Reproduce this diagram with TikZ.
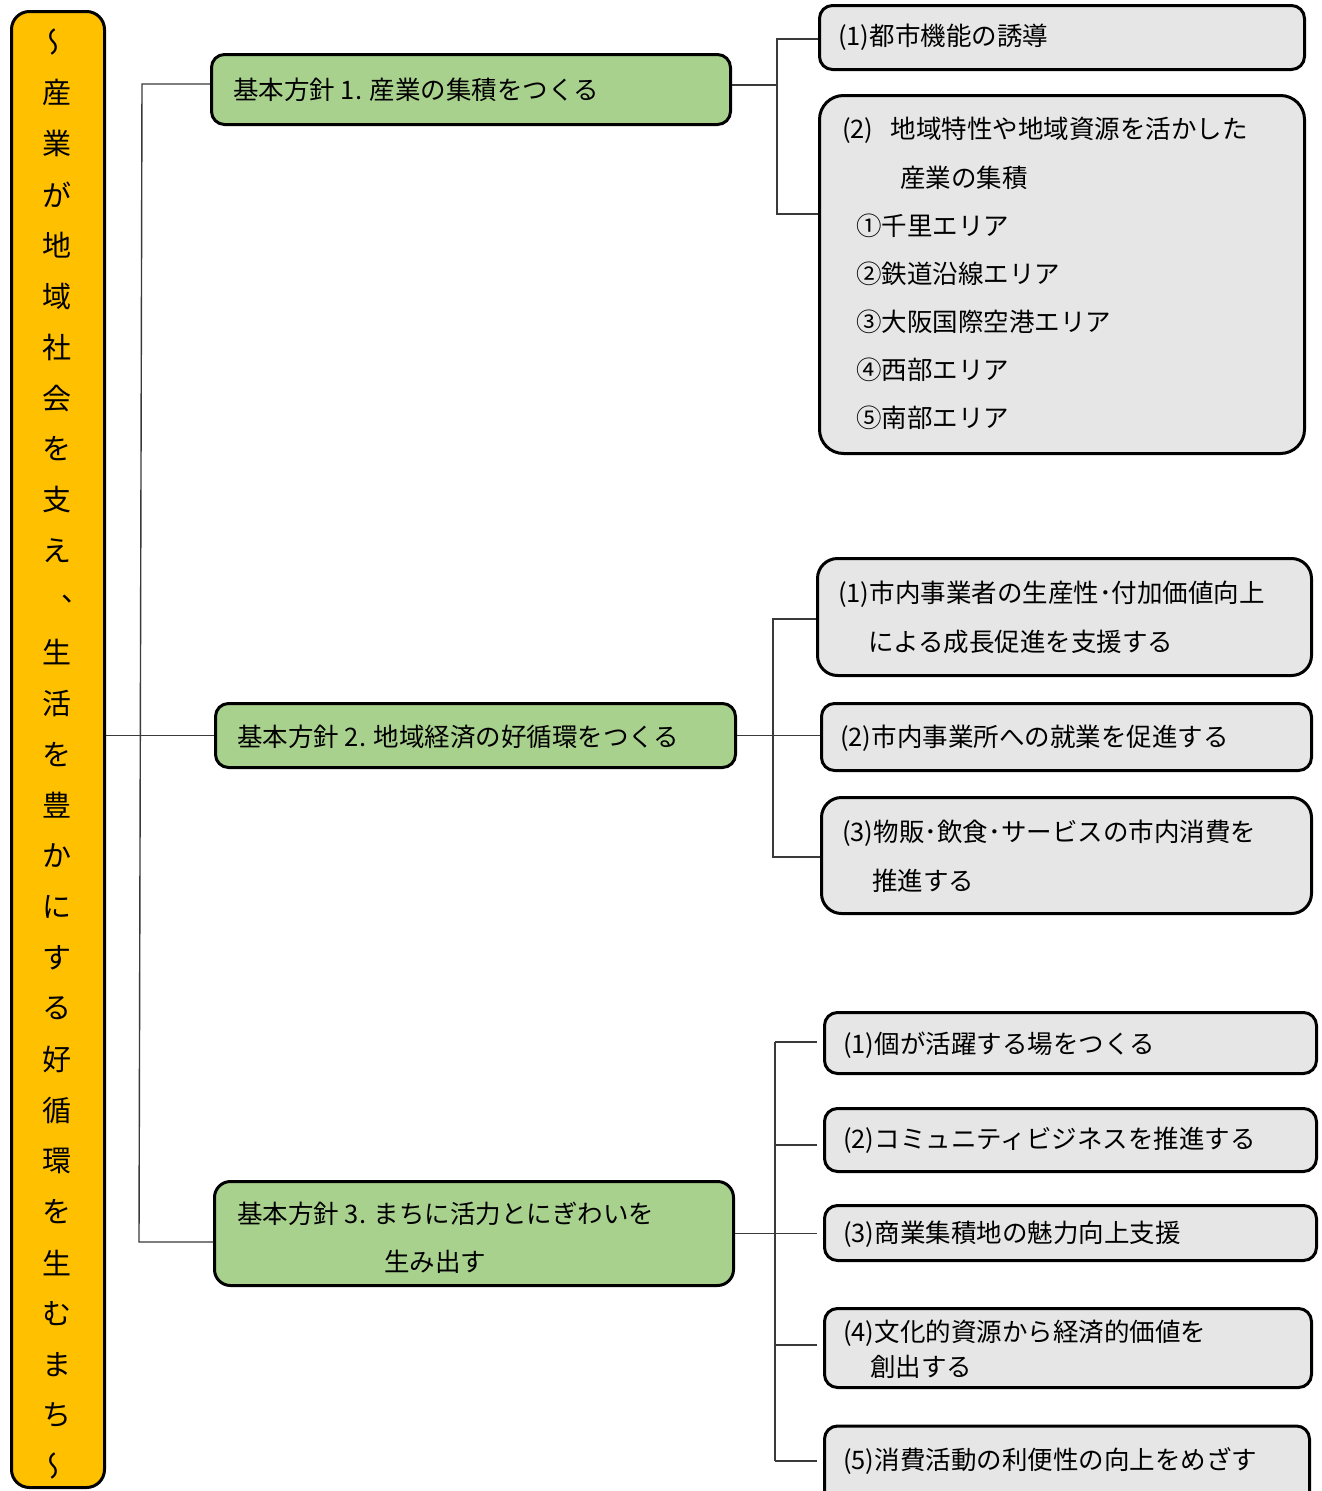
\documentclass[tikz,border=0pt]{standalone}
\usepackage{fontspec}
\setmainfont{Noto Sans CJK JP}
\usetikzlibrary{calc}
\definecolor{orangefill}{HTML}{FFC000}
\definecolor{greenfill}{HTML}{A9D18E}
\definecolor{grayfill}{HTML}{E7E6E6}
\definecolor{linec}{HTML}{3A3A3A}
\begin{document}
\begin{tikzpicture}[x=1pt,y=-1pt,
  basebox/.style={draw=black, line width=3pt, inner sep=0pt, rectangle},
  orangebox/.style={basebox, fill=orangefill, rounded corners=18pt},
  greenbox/.style={basebox, fill=greenfill, rounded corners=13pt},
  graybox/.style={basebox, fill=grayfill, rounded corners=13pt},
  bigbox/.style={basebox, fill=grayfill, rounded corners=24pt},
  conn/.style={draw=linec, line width=1.4pt},
  txt/.style={anchor=west, inner sep=0pt, font=\fontsize{25.5}{30}\selectfont},
  vtxt/.style={inner sep=0pt, font=\fontsize{29}{34}\selectfont}
]
\useasboundingbox (0,0) rectangle (1322,1491);
\clip (0,0) rectangle (1322,1491);
\fill[white] (0,0) rectangle (1322,1491);

% boxes
\node[orangebox, minimum width=93pt, minimum height=1476pt] (ob) at (58,749.5) {};
\node[greenbox, minimum width=519pt, minimum height=70pt] (g1) at (471,89.5) {};
\node[greenbox, minimum width=520pt, minimum height=64pt] (g2) at (475.5,735.5) {};
\node[greenbox, minimum width=519pt, minimum height=104pt, rounded corners=16pt] (g3) at (474,1233.5) {};

\node[graybox, minimum width=485pt, minimum height=64pt] (b1) at (1062,37.5) {};
\node[bigbox, minimum width=485pt, minimum height=358pt] (b2) at (1062,274.5) {};

\node[graybox, minimum width=494pt, minimum height=117pt, rounded corners=20pt] (c1) at (1064.5,617) {};
\node[graybox, minimum width=490pt, minimum height=67pt] (c2) at (1066.5,737) {};
\node[graybox, minimum width=490pt, minimum height=116pt, rounded corners=20pt] (c3) at (1066.5,855.5) {};

\node[graybox, minimum width=492pt, minimum height=61pt] (d1) at (1070.5,1043) {};
\node[graybox, minimum width=492pt, minimum height=63pt] (d2) at (1070.5,1140) {};
\node[graybox, minimum width=492pt, minimum height=55pt] (d3) at (1070.5,1233) {};
\node[graybox, minimum width=487pt, minimum height=79pt] (d4) at (1068,1348) {};
\node[graybox, minimum width=485pt, minimum height=84pt] (d5) at (1067,1468) {};

% connectors: main
\coordinate (mt) at (142,84);
\coordinate (mb) at (139,1242);
\draw[conn] ($(g1.west)+(0,-5.5)$) -- (mt) -- (mb) -- (g3.west |- mb);
\draw[conn] (ob.east |- g2.west) -- (g2.west);

% group 1
\coordinate (j1t) at (777,39);
\coordinate (j1b) at (777,214);
\draw[conn] (b1.west |- j1t) -- (j1t) -- (j1b) -- (b2.west |- j1b);
\draw[conn] ($(g1.east)+(0,-4.5)$) -- ($(g1.east -| j1t)+(0,-4.5)$);

% group 2
\coordinate (j2t) at (773,619);
\coordinate (j2b) at (773,857);
\draw[conn] (c1.west |- j2t) -- (j2t) -- (j2b) -- (c3.west |- j2b);
\draw[conn] (g2.east) -- (g2.east -| c2.west);

% group 3
\coordinate (j3t) at (775,1042);
\coordinate (j3b) at (775,1461);
\coordinate (j3c) at (775,1145);
\coordinate (j3d) at (775,1345);
\draw[conn] (j3t) -- (j3b);
\draw[conn, shorten >=6pt] (j3t) -- (d1.west |- j3t);
\draw[conn, shorten >=6pt] (j3c) -- (d2.west |- j3c);
\draw[conn, shorten >=6pt] (g3.east) -- (g3.east -| d3.west);
\draw[conn, shorten >=6pt] (j3d) -- (d4.west |- j3d);
\draw[conn, shorten >=6pt] (j3b) -- (d5.west |- j3b);

% vertical title
\foreach \ch [count=\i from 0] in {産,業,が,地,域,社,会,を,支,え,{},生,活,を,豊,か,に,す,る,好,循,環,を,生,む,ま,ち}{
  \pgfmathsetmacro{\yy}{92.9+\i*50.86}
  \node[vtxt] (v\i) at (57,\yy) {\ch};
}
\node[vtxt] (vcomma) at (76,599) {、};
\node[vtxt, rotate=90, xscale=-1] (vtop) at (57,42) {～};
\node[vtxt, rotate=90, xscale=-1] (vbot) at (57,1466) {～};

% texts
\node[txt] (tg1) at (233,90) {基本方針 1. 産業の集積をつくる};
\node[txt] (tg2) at (237,737) {基本方針 2. 地域経済の好循環をつくる};
\node[txt] (tg3a) at (237,1214) {基本方針 3. まちに活力とにぎわいを};
\node[txt] (tg3b) at (384,1262) {生み出す};

\node[txt] (tb1) at (838,37) {(1)都市機能の誘導};
\node[txt] (tb2a) at (842,130) {(2)\hspace{17pt}地域特性や地域資源を活かした};
\node[txt] (tb2b) at (900,178) {産業の集積};
\node[txt] (tb2c) at (856,226) {①千里エリア};
\node[txt] (tb2d) at (856,274) {②鉄道沿線エリア};
\node[txt] (tb2e) at (856,322) {③大阪国際空港エリア};
\node[txt] (tb2f) at (856,370) {④西部エリア};
\node[txt] (tb2g) at (856,418) {⑤南部エリア};

\node[txt] (tc1a) at (838,594) {(1)市内事業者の生産性･付加価値向上};
\node[txt] (tc1b) at (868,642) {による成長促進を支援する};
\node[txt] (tc2) at (840,738) {(2)市内事業所への就業を促進する};
\node[txt] (tc3a) at (842,833) {(3)物販･飲食･サービスの市内消費を};
\node[txt] (tc3b) at (872,881) {推進する};

\node[txt] (td1) at (843,1045) {(1)個が活躍する場をつくる};
\node[txt] (td2) at (843,1140) {(2)コミュニティビジネスを推進する};
\node[txt] (td3) at (843,1234) {(3)商業集積地の魅力向上支援};
\node[txt] (td4a) at (843,1333) {(4)文化的資源から経済的価値を};
\node[txt] (td4b) at (870,1367) {創出する};
\node[txt] (td5) at (843,1461) {(5)消費活動の利便性の向上をめざす};
\end{tikzpicture}
\end{document}
